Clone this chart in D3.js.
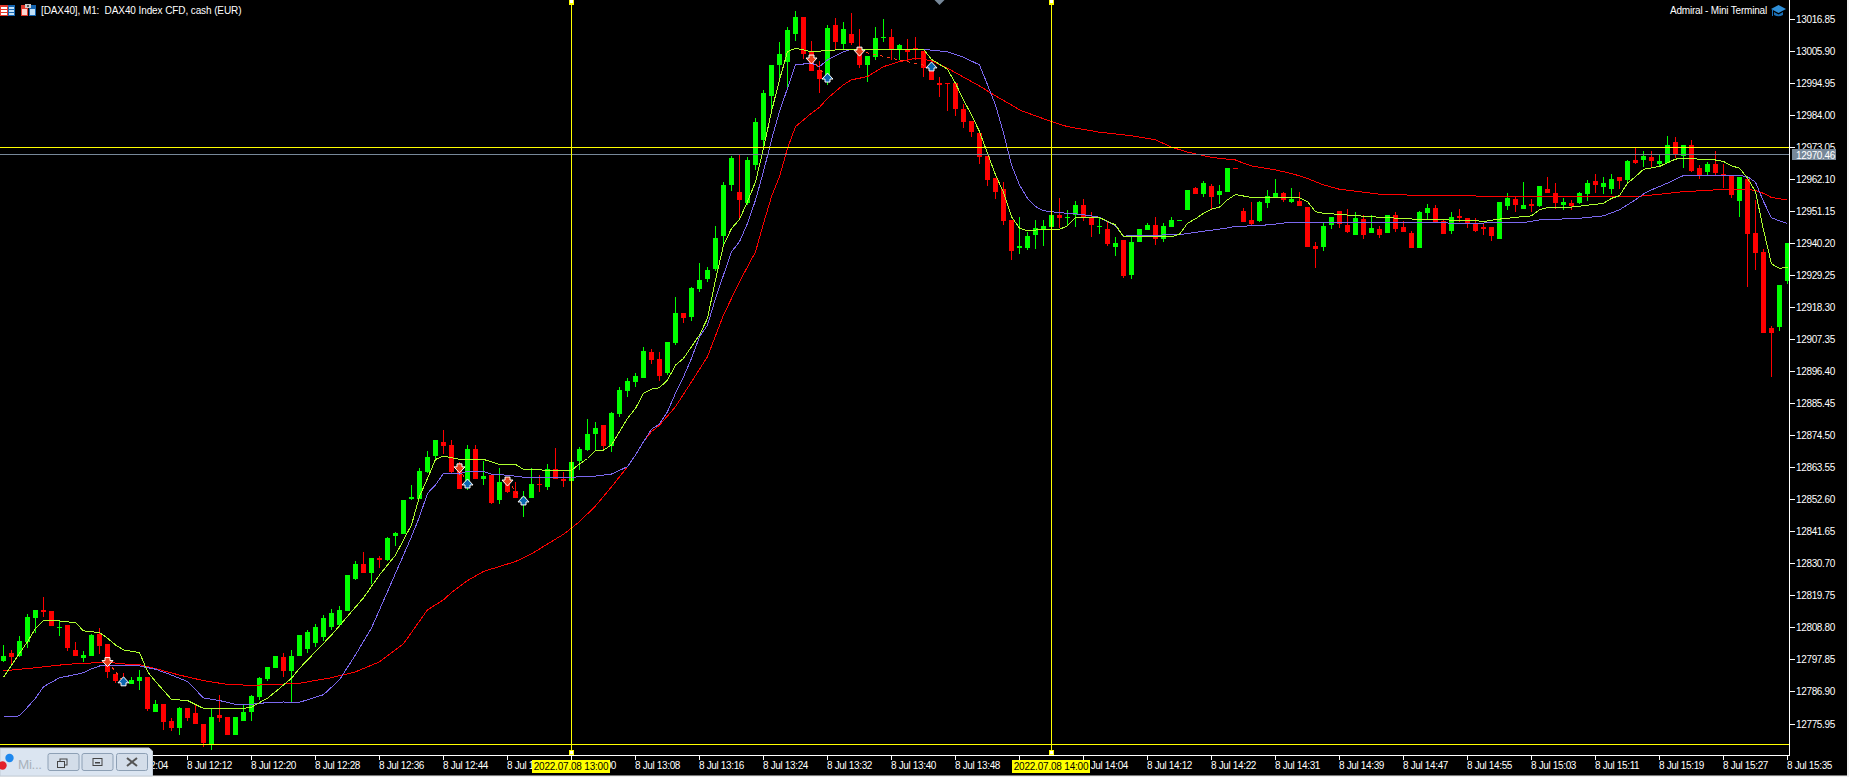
<!DOCTYPE html>
<html><head><meta charset="utf-8">
<script src="https://cdnjs.cloudflare.com/ajax/libs/d3/7.8.5/d3.min.js"></script>
<style>
html,body{margin:0;padding:0;background:#000;overflow:hidden}
svg{display:block;position:absolute;left:0;top:0}
text{font-family:"Liberation Sans",Arial,sans-serif;font-size:10px;fill:#fff;letter-spacing:-.35px}
</style></head><body><div id="chart"></div>
<script>
const title = "[DAX40], M1:  DAX40 Index CFD, cash (EUR)";
const brand = "Admiral - Mini Terminal";
const priceTicks = [13016.85,13005.90,12994.95,12984.00,12973.05,12962.10,12951.15,12940.20,12929.25,12918.30,12907.35,12896.40,12885.45,12874.50,12863.55,12852.60,12841.65,12830.70,12819.75,12808.80,12797.85,12786.90,12775.95];
const timeBars = [15,23,31,39,47,55,63,71,79,87,95,103,111,119,127,135,143,151,159,167,175,183,191,199,207,215,223];
const timeLabels = ["12:04","12:12","12:20","12:28","12:36","12:44","12:52","13:00","13:08","13:16","13:24","13:32","13:40","13:48","13:56","14:04","14:12","14:22","14:31","14:39","14:47","14:55","15:03","15:11","15:19","15:27","15:35"];
const periodBars = [71,131];
const periodLabels = ["2022.07.08 13:00","2022.07.08 14:00"];
const bidPrice = 12970.46, yellowTop = 12973.0, yellowBottom = 12769.0;
// [open, high, low, close]
const ohlc = [
[12797.4,12802.8,12797.1,12799.0],[12800.0,12801.1,12795.9,12798.7],[12799.0,12805.9,12798.8,12804.1],[12803.8,12813.3,12801.9,12812.3],
[12812.0,12814.7,12807.0,12814.7],[12814.7,12819.1,12812.3,12814.1],[12814.4,12814.4,12809.3,12809.3],[12808.7,12811.0,12806.0,12808.9],
[12809.6,12809.6,12800.7,12801.8],[12801.1,12803.8,12799.0,12799.0],[12798.3,12800.7,12797.0,12799.4],[12799.0,12806.5,12799.0,12806.2],
[12806.5,12808.6,12799.7,12802.4],[12803.1,12803.1,12791.5,12793.6],[12792.9,12792.9,12789.8,12790.5],[12791.2,12793.2,12789.1,12789.1],
[12789.5,12791.8,12789.5,12790.8],[12790.5,12794.2,12787.4,12791.8],[12791.8,12791.8,12780.2,12780.9],[12779.9,12784.0,12779.9,12782.6],
[12782.6,12782.6,12773.7,12776.5],[12776.8,12777.7,12773.4,12774.4],[12774.4,12781.6,12772.0,12781.3],[12781.3,12781.3,12776.8,12777.8],
[12779.5,12782.3,12775.8,12775.8],[12775.8,12775.8,12767.9,12769.3],[12769.0,12780.9,12766.9,12778.2],[12778.9,12785.7,12776.5,12777.8],
[12778.2,12778.2,12772.0,12772.0],[12772.0,12778.2,12772.0,12778.2],[12776.8,12782.3,12776.8,12779.9],[12779.9,12785.7,12776.8,12785.4],
[12785.0,12791.8,12784.0,12791.5],[12791.2,12795.3,12790.5,12795.3],[12794.9,12799.0,12794.9,12799.0],[12798.7,12800.0,12791.8,12793.9],
[12793.9,12801.1,12783.0,12799.0],[12799.0,12806.2,12799.0,12806.2],[12801.5,12808.0,12800.0,12807.2],[12803.5,12810.0,12802.0,12809.0],
[12805.5,12813.0,12804.0,12812.1],[12809.0,12815.0,12808.0,12813.8],[12809.7,12816.0,12809.0,12814.8],[12814.5,12826.8,12814.5,12826.8],
[12825.3,12831.5,12825.0,12830.5],[12830.5,12834.6,12827.4,12827.4],[12827.4,12832.5,12823.6,12832.5],[12832.5,12833.2,12829.1,12831.8],
[12831.8,12839.7,12831.5,12839.4],[12840.0,12841.4,12836.6,12841.1],[12840.7,12852.3,12840.7,12852.3],[12852.7,12857.5,12852.3,12853.4],
[12852.7,12863.3,12852.7,12862.2],[12861.9,12869.1,12861.6,12867.0],[12867.4,12872.8,12866.3,12872.8],[12872.2,12876.3,12868.1,12870.8],
[12871.1,12872.8,12861.6,12861.9],[12863.7,12865.3,12856.1,12856.1],[12856.4,12871.1,12855.8,12869.8],[12869.8,12871.1,12859.5,12859.5],
[12859.5,12865.7,12857.5,12860.5],[12860.9,12860.9,12851.0,12851.3],[12852.3,12863.3,12851.0,12858.5],[12859.2,12859.2,12854.7,12855.1],
[12855.4,12858.5,12853.0,12853.0],[12850.6,12855.4,12846.5,12853.4],[12853.0,12863.3,12853.0,12857.8],[12857.8,12860.9,12855.1,12857.5],
[12856.8,12864.6,12855.8,12862.9],[12862.9,12870.1,12859.5,12859.5],[12859.5,12861.9,12856.8,12858.8],[12858.8,12865.3,12858.8,12865.3],
[12865.7,12870.4,12862.6,12869.8],[12869.4,12880.0,12869.1,12874.9],[12874.9,12879.0,12869.1,12876.9],[12877.9,12877.9,12869.4,12870.8],
[12870.8,12882.4,12868.7,12882.0],[12881.7,12890.9,12880.7,12889.9],[12889.5,12894.0,12887.5,12893.0],[12892.6,12895.7,12890.9,12894.7],
[12894.0,12904.6,12894.0,12903.2],[12902.9,12903.9,12898.8,12900.1],[12900.5,12902.9,12893.0,12894.7],[12895.7,12906.3,12895.0,12906.3],
[12906.0,12921.7,12905.3,12916.2],[12916.2,12916.2,12912.8,12914.5],[12914.8,12925.1,12913.5,12924.7],[12924.4,12933.3,12923.4,12927.5],
[12927.8,12931.9,12926.8,12930.9],[12931.2,12945.9,12930.5,12941.8],[12942.5,12961.0,12938.8,12960.0],[12960.0,12970.0,12958.0,12969.2],
[12957.6,12970.2,12948.7,12954.8],[12953.8,12969.5,12953.0,12968.5],[12966.8,12983.0,12965.0,12981.5],[12975.3,12992.4,12973.1,12991.4],
[12990.4,13001.0,12984.5,13001.0],[13001.0,13008.8,12996.2,13004.7],[13002.0,13013.9,12992.4,13012.9],[13011.5,13019.4,13009.2,13017.4],
[13017.4,13017.4,13002.9,13004.7],[13005.5,13009.2,12998.9,12998.9],[12999.3,13002.3,12991.4,12996.2],[12997.6,13014.6,12994.1,13013.6],
[13014.6,13017.0,13006.1,13008.8],[13008.1,13015.7,13006.1,13013.3],[13011.5,13018.7,13007.8,13008.5],[13007.2,13013.3,12999.9,13001.0],
[13001.0,13004.0,12995.2,13004.0],[13003.7,13013.9,13002.7,13010.2],[13010.2,13016.7,13008.8,13010.5],[13010.5,13013.3,13002.7,13006.4],
[13006.4,13008.1,13002.7,13007.8],[13006.1,13009.9,13002.3,13005.4],[13006.8,13010.5,13002.7,13006.1],[13005.8,13005.8,12996.9,12999.9],
[13001.0,13002.7,12995.9,12995.9],[12994.8,12996.9,12990.1,12994.1],[12994.8,12994.8,12985.3,12994.5],[12994.8,12994.8,12983.6,12986.0],
[12986.0,12987.7,12979.5,12981.5],[12981.9,12981.9,12976.4,12978.1],[12977.8,12977.8,12967.2,12969.6],[12969.9,12969.9,12959.7,12961.7],
[12962.4,12962.4,12955.2,12957.6],[12958.6,12961.0,12946.3,12947.7],[12948.0,12948.0,12934.4,12937.4],[12938.5,12949.1,12936.4,12939.2],
[12938.5,12943.9,12937.8,12942.6],[12942.9,12948.0,12938.1,12945.3],[12945.0,12948.0,12939.2,12946.0],[12945.6,12949.7,12945.6,12949.7],
[12949.7,12955.6,12945.3,12948.7],[12948.8,12951.5,12946.0,12949.1],[12949.7,12954.5,12945.6,12953.2],[12953.2,12955.2,12947.7,12948.7],
[12949.1,12950.8,12942.2,12946.3],[12945.8,12948.7,12943.3,12946.0],[12945.0,12947.7,12939.2,12939.8],[12938.8,12942.2,12935.7,12940.2],
[12941.2,12941.2,12928.2,12928.9],[12929.2,12942.9,12927.9,12940.5],[12940.5,12945.0,12940.5,12945.0],[12944.6,12947.0,12944.6,12946.3],
[12946.3,12949.1,12939.5,12941.5],[12941.5,12947.0,12940.5,12946.0],[12945.6,12949.1,12945.6,12948.0],[12947.8,12948.0,12947.8,12948.0],
[12951.5,12958.3,12951.5,12958.3],[12959.0,12959.3,12956.9,12956.9],[12956.9,12961.4,12955.9,12960.7],[12959.7,12960.3,12951.8,12955.9],
[12956.6,12960.0,12953.5,12957.9],[12957.6,12965.8,12957.6,12965.8],[12965.8,12965.8,12965.5,12965.5],[12951.1,12952.1,12947.3,12947.3],
[12948.0,12954.2,12946.0,12946.6],[12947.7,12954.5,12947.3,12954.2],[12953.8,12958.3,12952.1,12956.2],[12955.9,12962.0,12955.9,12957.2],
[12957.2,12957.6,12954.2,12954.8],[12954.2,12958.9,12953.8,12955.2],[12954.5,12957.6,12952.8,12952.8],[12952.4,12952.4,12938.8,12938.8],
[12939.1,12940.5,12931.6,12938.1],[12938.8,12947.0,12937.4,12946.0],[12946.3,12949.0,12944.9,12949.0],[12951.1,12951.1,12945.3,12946.6],
[12946.3,12951.8,12943.6,12943.9],[12942.9,12950.7,12942.9,12948.7],[12948.3,12949.7,12941.5,12942.9],[12943.6,12949.7,12943.6,12945.3],
[12944.9,12946.0,12941.9,12942.9],[12943.6,12949.7,12943.6,12949.7],[12949.7,12950.7,12943.9,12944.9],[12945.6,12947.7,12943.9,12943.9],
[12943.6,12944.2,12938.4,12938.4],[12938.4,12951.1,12938.4,12950.7],[12950.4,12953.5,12948.3,12952.1],[12952.1,12953.1,12947.0,12947.3],
[12947.7,12948.0,12943.2,12943.2],[12944.2,12950.7,12943.2,12949.0],[12949.4,12951.8,12947.3,12948.7],[12948.7,12948.7,12945.3,12947.0],
[12946.7,12948.7,12943.9,12944.3],[12945.6,12947.0,12942.9,12945.0],[12945.6,12945.6,12940.9,12942.6],[12941.5,12954.2,12941.5,12954.2],
[12952.8,12957.3,12951.5,12955.6],[12955.2,12955.9,12950.8,12953.2],[12951.8,12961.0,12951.8,12953.2],[12953.5,12955.2,12950.8,12952.8],
[12952.8,12959.7,12952.5,12959.7],[12958.6,12962.7,12957.3,12957.3],[12957.3,12960.7,12951.8,12953.8],[12953.2,12955.6,12951.5,12954.2],
[12953.8,12954.9,12951.5,12952.8],[12953.8,12957.6,12953.5,12957.3],[12956.9,12961.7,12954.5,12960.7],[12961.4,12963.8,12957.3,12960.0],
[12959.3,12962.7,12956.9,12960.7],[12958.6,12963.8,12956.9,12962.0],[12962.7,12962.7,12958.6,12961.4],[12961.7,12968.5,12961.0,12968.2],
[12968.5,12972.6,12967.2,12967.5],[12968.5,12971.6,12966.1,12969.9],[12969.6,12971.6,12966.1,12968.2],[12967.2,12970.2,12966.1,12968.2],
[12967.5,12976.7,12967.5,12973.7],[12974.7,12976.4,12969.2,12970.2],[12969.9,12973.7,12965.8,12973.7],[12973.7,12975.4,12964.4,12964.8],
[12965.8,12966.8,12962.0,12963.4],[12964.4,12967.9,12963.4,12967.2],[12967.2,12971.6,12963.4,12964.1],[12963.8,12967.2,12959.0,12963.4],
[12963.1,12963.1,12955.6,12956.6],[12954.5,12962.7,12949.1,12962.7],[12962.0,12962.0,12925.1,12943.3],[12943.6,12954.9,12931.0,12936.8],
[12937.1,12938.1,12909.4,12909.4],[12911.1,12911.8,12894.4,12909.4],[12911.5,12925.8,12910.1,12925.8],[12927.2,12940.2,12926.2,12940.2]
];
// moving averages, read at the listed bars: [bar, price]
const fastMA = [[0,12791.7],[1,12795.9],[2,12799.9],[3,12803.9],[4,12808.5],[5,12811.1],[7,12811.0],[9,12810.4],[10,12807.6],[12,12807.0],[13,12805.1],[14,12802.8],[15,12801.1],[17,12800.2],[18,12793.7],[19,12790.3],[21,12784.2],[23,12783.8],[25,12781.1],[30,12781.1],[31,12781.5],[32,12783.1],[33,12784.6],[34,12786.8],[35,12789.1],[36,12791.4],[37,12794.8],[41,12806.2],[45,12818.9],[47,12826.7],[49,12833.5],[51,12843.8],[52,12853.5],[53,12859.7],[54,12866.2],[55,12867.3],[57,12866.2],[60,12866.2],[62,12864.5],[64,12864.5],[65,12862.8],[68,12862.5],[71,12862.5],[72,12864.6],[73,12866.5],[74,12869.3],[75,12869.4],[76,12871.1],[78,12880.2],[79,12883.6],[80,12888.8],[81,12890.2],[82,12890.7],[83,12893.3],[84,12898.4],[85,12900.7],[86,12904.7],[87,12908.7],[88,12914.4],[89,12927.5],[90,12939.4],[91,12945.1],[92,12948.2],[93,12954.3],[94,12961.0],[95,12972.5],[96,12985.1],[97,12995.9],[98,13005.5],[99,13006.7],[101,13005.5],[104,13006.1],[105,13006.3],[115,13006.3],[116,13002.9],[117,13001.2],[118,12999.5],[119,12994.7],[120,12989.0],[121,12983.9],[122,12978.2],[123,12970.8],[124,12963.4],[125,12957.5],[126,12949.1],[127,12945.2],[128,12944.3],[130,12944.8],[132,12944.8],[133,12946.0],[134,12948.9],[137,12948.8],[139,12946.3],[140,12942.3],[146,12942.3],[147,12943.1],[148,12946.9],[149,12948.4],[150,12950.3],[151,12951.7],[152,12952.4],[153,12954.9],[154,12956.7],[155,12956.2],[156,12955.7],[162,12955.6],[163,12954.3],[164,12950.8],[165,12950.3],[166,12950.1],[168,12949.7],[171,12949.1],[177,12948.2],[184,12947.8],[185,12947.5],[187,12948.3],[189,12948.9],[191,12949.4],[192,12951.5],[193,12952.2],[196,12952.4],[200,12953.7],[201,12955.4],[202,12956.3],[203,12960.6],[204,12962.8],[205,12965.3],[207,12966.3],[209,12968.8],[210,12969.1],[214,12968.5],[215,12968.0],[216,12966.5],[217,12965.7],[218,12962.3],[219,12957.7],[220,12944.6],[221,12933.0],[222,12931.5],[223,12931.8]];
const midMA = [[0,12778.2],[1,12778.2],[2,12778.6],[3,12781.5],[4,12784.6],[5,12788.5],[7,12791.6],[8,12792.1],[10,12793.3],[11,12794.6],[12,12795.6],[17,12795.6],[19,12794.5],[21,12792.5],[23,12790.3],[25,12784.7],[27,12783.8],[29,12782.5],[31,12782.5],[33,12783.1],[35,12783.3],[37,12783.2],[40,12785.8],[42,12790.9],[44,12799.4],[46,12808.6],[48,12821.0],[49,12827.3],[50,12833.5],[51,12839.8],[52,12846.6],[53,12854.6],[54,12857.5],[55,12861.4],[57,12861.2],[58,12862.2],[59,12862.1],[60,12862.1],[61,12861.1],[63,12860.8],[65,12860.1],[71,12860.1],[74,12860.5],[76,12861.2],[78,12863.7],[79,12867.7],[80,12872.2],[81,12876.5],[82,12878.3],[83,12882.5],[84,12888.8],[85,12894.4],[86,12900.7],[87,12908.1],[88,12912.1],[89,12921.2],[90,12929.2],[91,12937.1],[92,12940.6],[93,12946.8],[94,12954.8],[95,12964.6],[96,12975.4],[97,12985.1],[98,12993.0],[99,13001.0],[101,13001.6],[102,13000.4],[103,13002.7],[105,13005.5],[106,13006.3],[115,13006.3],[118,13005.5],[120,13003.6],[122,13001.0],[123,12994.2],[124,12987.3],[125,12977.7],[126,12966.8],[127,12960.0],[128,12955.4],[129,12952.6],[130,12951.2],[132,12950.5],[134,12950.1],[136,12949.4],[137,12948.9],[139,12946.0],[140,12942.5],[142,12942.7],[147,12943.0],[149,12943.8],[151,12944.5],[153,12945.3],[154,12945.8],[157,12946.1],[159,12946.6],[161,12947.3],[164,12947.3],[184,12946.9],[187,12947.1],[190,12947.1],[192,12948.0],[197,12948.6],[200,12949.4],[202,12951.5],[204,12954.9],[205,12956.9],[206,12958.3],[208,12960.6],[210,12963.2],[217,12963.2],[218,12962.8],[219,12960.9],[220,12954.3],[221,12948.8],[222,12947.7],[223,12946.8]];
const slowMA = [[0,12793.9],[2,12794.5],[4,12795.0],[6,12795.6],[8,12796.2],[10,12796.5],[13,12796.9],[15,12796.3],[17,12796.1],[19,12794.7],[22,12792.5],[25,12790.6],[28,12789.3],[31,12789.0],[34,12789.3],[37,12789.7],[41,12791.6],[44,12793.6],[47,12797.0],[50,12803.2],[53,12814.8],[55,12818.2],[56,12820.7],[58,12824.8],[60,12827.9],[62,12829.6],[64,12831.3],[66,12833.9],[68,12837.3],[70,12840.6],[72,12844.9],[74,12850.3],[76,12856.8],[78,12863.7],[79,12867.7],[80,12872.2],[81,12875.7],[82,12877.9],[84,12884.2],[86,12892.7],[88,12901.3],[90,12915.5],[92,12926.9],[94,12937.1],[95,12946.8],[96,12956.0],[97,12962.8],[98,12972.5],[99,12979.9],[101,12984.5],[102,12986.5],[103,12989.6],[104,12991.9],[105,12994.2],[106,12995.9],[108,12997.0],[110,13000.4],[112,13002.1],[114,13003.3],[116,13002.4],[118,12999.9],[120,12996.8],[122,12993.8],[124,12990.4],[126,12987.3],[127,12985.6],[131,12981.6],[133,12979.9],[137,12978.0],[141,12976.8],[144,12975.4],[146,12972.9],[148,12971.2],[151,12969.4],[154,12968.5],[155,12967.4],[156,12966.5],[159,12965.1],[161,12963.9],[163,12962.2],[165,12960.0],[167,12958.5],[170,12957.5],[172,12956.8],[176,12956.5],[184,12956.2],[186,12956.1],[192,12956.0],[197,12955.9],[205,12956.2],[208,12957.1],[210,12957.7],[213,12958.1],[215,12958.5],[218,12958.4],[219,12958.1],[220,12957.1],[221,12955.7],[223,12954.8]];
// trades: [sell bar, sell price, buy bar, buy price]
const trades = [[13,12797.1,15,12790.2],[57,12863.3,58,12857.8],[63,12858.8,65,12852.0],[101,13003.0,103,12996.5],[107,13005.7,116,13000.3]];
const tabBar = 117; // grey shift marker, position in bars

const W=1849,H=777;
const C={up:"#00ff00",down:"#ff0000",fast:"#adff2f",mid:"#7b68ee",slow:"#ff0000",yellow:"#ffff00",grey:"#778899"};
const x=d3.scaleLinear().domain([0,223]).range([3,1787]);
const y=d3.scaleLinear().domain([12775.95,13016.85]).range([723.5,18.5]);
const Y=v=>Math.round(y(v));
const svg=d3.select("#chart").append("svg").attr("width",W).attr("height",H).attr("viewBox",`0 0 ${W} ${H}`);
svg.append("rect").attr("width",W).attr("height",H).attr("fill","#000");
// candles
const g=svg.append("g").attr("shape-rendering","crispEdges");
const bars=g.selectAll("g.c").data(ohlc).join("g").attr("class","c");
const col=d=>d[3]>=d[0]?C.up:C.down;
bars.append("rect").attr("x",(d,i)=>x(i)).attr("width",1).attr("y",d=>Y(d[1])).attr("height",d=>Math.max(1,Y(d[2])-Y(d[1]))).attr("fill",col);
bars.append("rect").attr("x",(d,i)=>x(i)-2).attr("width",5).attr("y",d=>Y(Math.max(d[0],d[3]))).attr("height",d=>Math.max(1,Y(Math.min(d[0],d[3]))-Y(Math.max(d[0],d[3])))).attr("fill",col);
// moving averages
const line=d3.line().x(d=>x(d[0])+.5).y(d=>y(d[1]));
[[slowMA,C.slow],[midMA,C.mid],[fastMA,C.fast]].forEach(([s,c])=>{
  svg.append("path").datum(s).attr("d",line).attr("fill","none").attr("stroke",c).attr("stroke-width",1).attr("shape-rendering","crispEdges");
});
// trade links
svg.append("g").selectAll("line").data(trades).join("line")
  .attr("x1",d=>x(d[0])+.5).attr("y1",d=>y(d[1])).attr("x2",d=>x(d[2])+.5).attr("y2",d=>y(d[3]))
  .attr("stroke","#ff3a1a").attr("stroke-width",1).attr("stroke-dasharray","3 4").attr("shape-rendering","crispEdges");
// horizontal & vertical lines
const lines=svg.append("g").attr("shape-rendering","crispEdges");
[[yellowTop,C.yellow],[bidPrice,C.grey],[yellowBottom,C.yellow]].forEach(([p,c])=>{
  lines.append("rect").attr("x",0).attr("width",1789).attr("y",Y(p)).attr("height",1).attr("fill",c);
});
periodBars.forEach(b=>{
  lines.append("rect").attr("x",x(b)).attr("width",1).attr("y",0).attr("height",755).attr("fill",C.yellow);
  lines.append("rect").attr("x",x(b)-2).attr("width",5).attr("y",0).attr("height",5).attr("fill",C.yellow);
  lines.append("rect").attr("x",x(b)-1).attr("width",3).attr("y",0).attr("height",3).attr("fill","#fff");
  lines.append("rect").attr("x",x(b)-2).attr("width",5).attr("y",750).attr("height",5).attr("fill",C.yellow);
  lines.append("rect").attr("x",x(b)-1).attr("width",3).attr("y",751).attr("height",3).attr("fill","#fff");
});
// shift marker
svg.append("path").attr("d",`M${x(tabBar)-4.5},0 h10 l-5,5 z`).attr("fill","#778899");
// arrows
const marks=svg.append("g");
const sell="M-2.5,-4 h5 v3 h3 l-5.5,6 l-5.5,-6 h3 z", buy="M-2.5,4 h5 v-3 h3 l-5.5,-6 l-5.5,6 h3 z";
trades.forEach(t=>{
  marks.append("path").attr("transform",`translate(${x(t[0])+.5},${y(t[1])})`).attr("d",sell).attr("fill","#e8401c").attr("stroke","#fff").attr("stroke-width",1);
  marks.append("path").attr("transform",`translate(${x(t[2])+.5},${y(t[3])})`).attr("d",buy).attr("fill","#0b66b0").attr("stroke","#fff").attr("stroke-width",1);
});
// axes
const ax=svg.append("g").attr("shape-rendering","crispEdges");
ax.append("rect").attr("x",1789).attr("y",0).attr("width",1).attr("height",756).attr("fill","#fff");
ax.append("rect").attr("x",0).attr("y",755).attr("width",1790).attr("height",1).attr("fill","#fff");
const py=svg.append("g").selectAll("g").data(priceTicks).join("g").attr("transform",d=>`translate(0,${Y(d)})`);
py.append("rect").attr("x",1790).attr("y",0).attr("width",5).attr("height",1).attr("fill","#fff").attr("shape-rendering","crispEdges");
py.append("text").attr("x",1796).attr("y",4).text(d=>d.toFixed(2));
const tx=svg.append("g").selectAll("g").data(timeBars).join("g").attr("transform",d=>`translate(${x(d)},0)`);
tx.append("rect").attr("x",0).attr("y",755).attr("width",1).attr("height",5).attr("fill","#fff").attr("shape-rendering","crispEdges");
tx.append("text").attr("x",0).attr("y",769).text((d,i)=>"8 Jul "+timeLabels[i]);
// period labels
periodBars.forEach((b,i)=>{
  svg.append("rect").attr("x",x(b)-39).attr("y",760).attr("width",78).attr("height",13).attr("fill",C.yellow).attr("shape-rendering","crispEdges");
  svg.append("text").attr("x",x(b)).attr("y",770).attr("text-anchor","middle").style("fill","#000").style("letter-spacing","-.2px").text(periodLabels[i]);
});
// bid label
svg.append("rect").attr("x",1792).attr("y",149).attr("width",44).attr("height",11).attr("fill",C.grey).attr("shape-rendering","crispEdges");
svg.append("text").attr("x",1796).attr("y",158.5).text(bidPrice.toFixed(2));
// title & brand
svg.append("text").attr("x",41).attr("y",14).style("letter-spacing","-.1px").style("white-space","pre").text(title);
svg.append("text").attr("x",1670).attr("y",14).style("letter-spacing","-.2px").text(brand);
// header icons
const ic=svg.append("g").attr("shape-rendering","crispEdges");
function r(a,b,w,h,f){ic.append("rect").attr("x",a).attr("y",b).attr("width",w).attr("height",h).attr("fill",f);}
r(0,5,8,11,"#e0392b");r(8,5,7,11,"#1565b0");r(1,7,6,2,"#fff");r(1,10,6,2,"#fff");r(1,13,6,2,"#fff");r(9,7,5,2,"#bfe0f8");r(9,10,5,2,"#bfe0f8");r(9,13,5,2,"#bfe0f8");
r(21,5,7,11,"#e0392b");r(29,5,7,11,"#1565b0");r(22,9,5,6,"#fcd5cf");r(30,9,5,6,"#bfe0f8");r(25,4,6,4,"#ccc");r(27,5,2,2,"#555");
// graduation cap
svg.append("path").attr("d","M1771,9 l7.5,-4 l7.5,4 l-7.5,4 z").attr("fill","#2f8fd8");
svg.append("path").attr("d","M1774,12 v3 q4.5,2.5 9,0 v-3 l-4.5,2.4 z").attr("fill","#1b6fb5");
svg.append("rect").attr("x",1772).attr("y",10).attr("width",1).attr("height",6).attr("fill","#1b6fb5");
// mini window and frame
svg.append("rect").attr("x",0).attr("y",775.5).attr("width",W).attr("height",2).attr("fill","#f0f0f0");
svg.append("rect").attr("x",1847).attr("y",0).attr("width",2).attr("height",H).attr("fill","#f0f0f0");
const win=svg.append("g");
win.append("path").attr("d","M0,748 H149 L152.5,751 V776 H0 Z").attr("fill","#dbe5f1").attr("stroke","#c2ccd6");
win.append("circle").attr("cx",2.5).attr("cy",765.5).attr("r",4.2).attr("fill","#e3202a");
win.append("circle").attr("cx",9.5).attr("cy",758).attr("r",4.2).attr("fill","#1e88ee");
win.append("text").attr("x",18).attr("y",769).style("font-size","13.5px").style("fill","#a9b2bb").text("Mi...");
[48,82,116.5].forEach((bx,i)=>{
  win.append("rect").attr("x",bx).attr("y",753.5).attr("width",31).attr("height",17).attr("rx",2).attr("fill","#d3dde9").attr("stroke","#8da0b5");
});
win.append("rect").attr("x",60).attr("y",759).attr("width",7).attr("height",6).attr("fill","none").attr("stroke","#444");
win.append("rect").attr("x",57.5).attr("y",761.5).attr("width",7).attr("height",6).attr("fill","#d3dde9").attr("stroke","#444");
win.append("rect").attr("x",93).attr("y",758.5).attr("width",9).attr("height",7).attr("fill","none").attr("stroke","#444");
win.append("rect").attr("x",95).attr("y",762).attr("width",5).attr("height",1.5).attr("fill","#444");
win.append("path").attr("d","M127,758 L137,766 M137,758 L127,766").attr("stroke","#555").attr("stroke-width",2);
</script></body></html>
